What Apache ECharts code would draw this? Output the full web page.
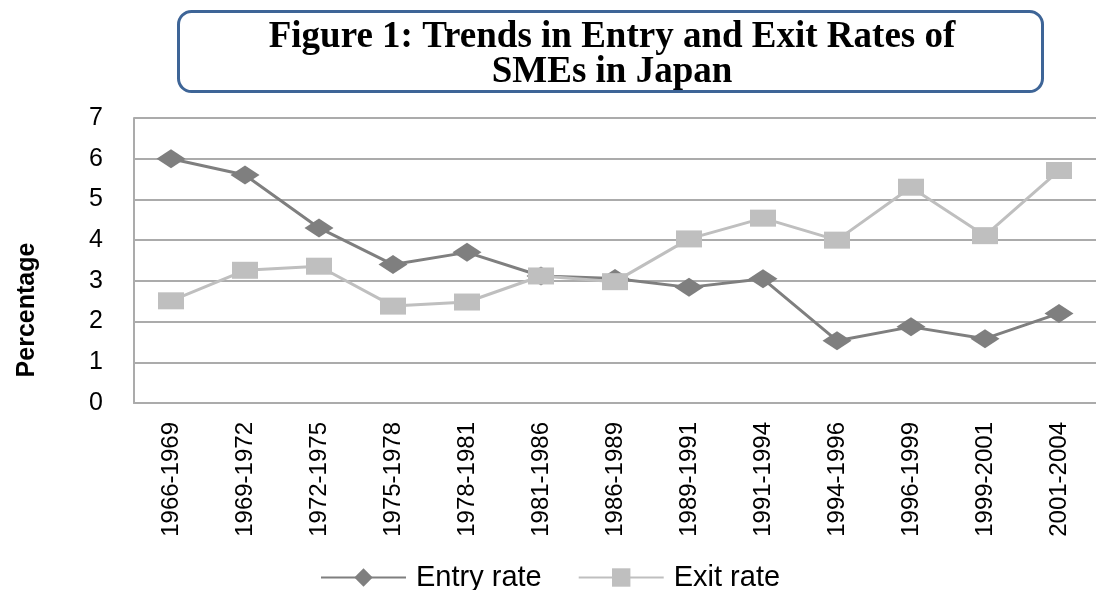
<!DOCTYPE html>
<html>
<head>
<meta charset="utf-8">
<script src="https://cdn.jsdelivr.net/npm/echarts@6/dist/echarts.min.js"></script>
<style>
html,body{margin:0;padding:0;background:#fff;}
#chart{width:1096px;height:590px;}
</style>
</head>
<body>
<div id="chart"></div>
<script>
const categories = ['1966-1969','1969-1972','1972-1975','1975-1978','1978-1981','1981-1986','1986-1989','1989-1991','1991-1994','1994-1996','1996-1999','1999-2001','2001-2004'];
const entryRate = [6.0, 5.6, 4.3, 3.4, 3.7, 3.12, 3.06, 2.84, 3.05, 1.53, 1.87, 1.58, 2.2];
const exitRate = [2.51, 3.26, 3.36, 2.38, 2.48, 3.12, 2.98, 4.03, 4.54, 4.0, 5.3, 4.11, 5.71];
const yTicks = [0, 1, 2, 3, 4, 5, 6, 7];
const titleText = 'Figure 1: Trends in Entry and Exit Rates of\nSMEs in Japan';
const yAxisTitle = 'Percentage';
const seriesNames = ['Entry rate', 'Exit rate'];

const chart = echarts.init(document.getElementById('chart'), null, {renderer: 'canvas'});
const gridColor = '#ababab';
chart.setOption({
  backgroundColor: '#ffffff',
  animation: false,
  title: {
    text: titleText,
    left: 612,
    top: 20,
    padding: 0,
    textAlign: 'center',
    textStyle: {
      fontFamily: '"Liberation Serif", "Times New Roman", serif',
      fontWeight: 'bold',
      fontSize: 37,
      lineHeight: 35,
      color: '#000000'
    }
  },
  graphic: [
    {
      type: 'rect',
      z: -1,
      shape: {x: 178.5, y: 11.5, width: 864, height: 80, r: 13},
      style: {fill: '#ffffff', stroke: '#3e6597', lineWidth: 3}
    },
    {
      type: 'text',
      x: 27,
      y: 310,
      rotation: Math.PI / 2,
      style: {
        text: yAxisTitle,
        fontFamily: '"Liberation Sans", Arial, sans-serif',
        fontWeight: 'bold',
        fontSize: 25,
        fill: '#000000',
        align: 'center',
        verticalAlign: 'middle'
      }
    }
  ],
  legend: {
    left: 315,
    top: 558,
    itemWidth: 85,
    itemHeight: 23,
    itemGap: 36,
    textStyle: {
      fontFamily: '"Liberation Sans", Arial, sans-serif',
      fontSize: 29,
      color: '#000000',
      padding: [0, 0, 0, 5]
    },
    data: seriesNames
  },
  grid: {left: 134, right: -9, top: 118, bottom: 187, containLabel: false},
  xAxis: {
    type: 'category',
    data: categories,
    boundaryGap: true,
    axisLine: {show: true, lineStyle: {color: gridColor, width: 2}},
    axisTick: {show: false},
    splitLine: {show: false},
    axisLabel: {
      rotate: 90,
      margin: 19,
      interval: 0,
      fontFamily: '"Liberation Sans", Arial, sans-serif',
      fontSize: 24,
      color: '#000000'
    }
  },
  yAxis: {
    type: 'value',
    min: yTicks[0],
    max: yTicks[yTicks.length - 1],
    interval: 1,
    axisLine: {show: true, lineStyle: {color: gridColor, width: 2}},
    axisTick: {show: false},
    splitLine: {show: true, lineStyle: {color: gridColor, width: 2}},
    axisLabel: {
      margin: 31,
      fontFamily: '"Liberation Sans", Arial, sans-serif',
      fontSize: 25,
      color: '#000000'
    }
  },
  series: [
    {
      name: seriesNames[0],
      type: 'line',
      data: entryRate,
      symbol: 'diamond',
      symbolSize: [29, 19],
      lineStyle: {color: '#7f7f7f', width: 3},
      itemStyle: {color: '#7f7f7f'},
      z: 2
    },
    {
      name: seriesNames[1],
      type: 'line',
      data: exitRate,
      symbol: 'rect',
      symbolSize: [26, 17],
      lineStyle: {color: '#bfbfbf', width: 3},
      itemStyle: {color: '#bfbfbf'},
      z: 3
    }
  ]
});
</script>
</body>
</html>
